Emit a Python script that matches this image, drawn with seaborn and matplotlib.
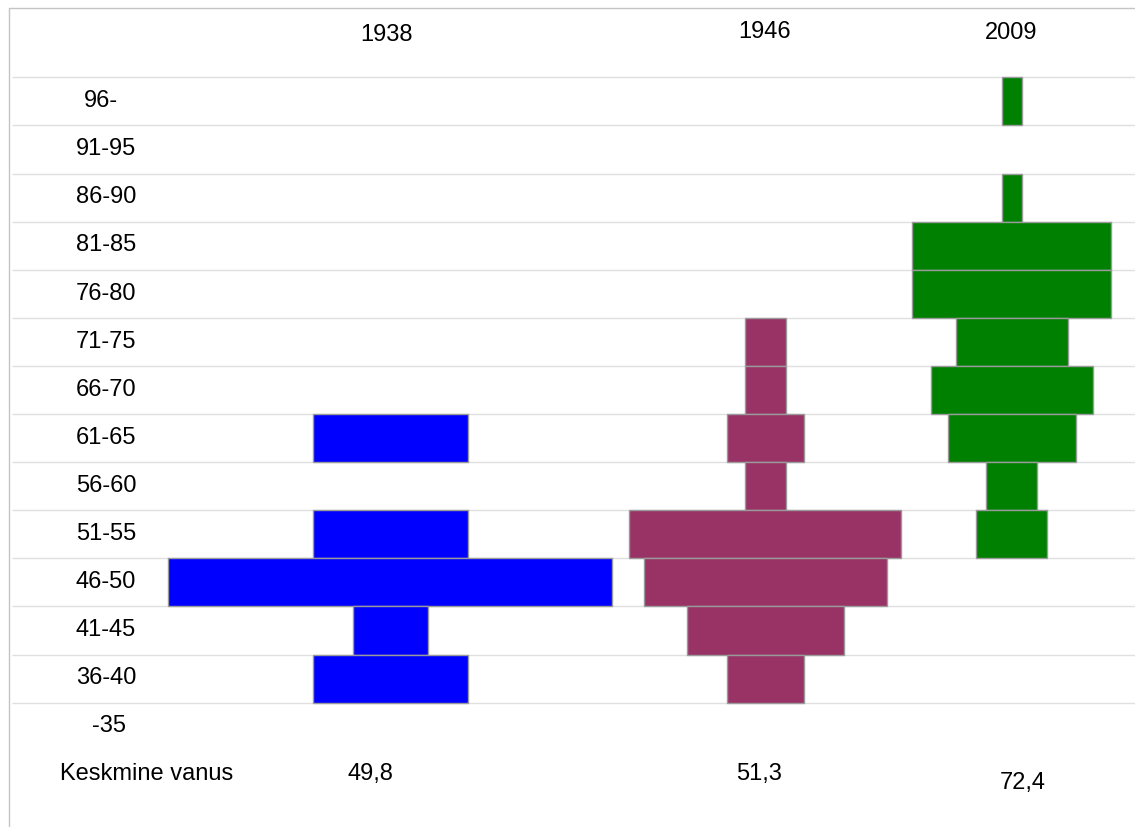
import numpy as np
import pandas as pd
import matplotlib
matplotlib.use("Agg")
import matplotlib.pyplot as plt
from matplotlib.lines import Line2D
import seaborn as sns

# ---------------- data ----------------
age_groups = ["96-", "91-95", "86-90", "81-85", "76-80", "71-75", "66-70",
              "61-65", "56-60", "51-55", "46-50", "41-45", "36-40", "-35"]
years = ["1938", "1946", "2009"]
share_1938 = [None, None, None, None, None, None, None,
              15.5, None, 15.5, 44.4, 7.5, 15.5, None]
share_1946 = [None, None, None, None, None, 4.1, 4.1,
              7.7, 4.1, 27.2, 24.3, 15.7, 7.7, None]
share_2009 = [2.0, None, 2.0, 19.9, 19.9, 11.2, 16.2,
              12.8, 5.1, 7.1, None, None, None, None]
mean_label = "Keskmine vanus"
mean_age = ["49,8", "51,3", "72,4"]

# ---------------- style / layout ----------------
colors = ["#0000FF", "#993366", "#008000"]
W, H = 1135, 827
col_centers = [39.0, 76.5, 101.15]            # x data units (1 unit = 10 px)
header_pos = [(387, 41.0), (765, 37.5), (1011, 39.3)]   # (x px, baseline px)
mean_pos = [(370, 780), (759, 780), (1022.5, 789.3)]
mean_label_pos = (60, 780)
label_x_default = 106
label_x = {"96-": 101, "-35": 109}
grid_top, row_h = 77.3, 48.1

sns.set_theme(style="white")
plt.rcParams["font.family"] = ["Liberation Sans", "DejaVu Sans"]
FS = 17

fig = plt.figure(figsize=(W / 100, H / 100), dpi=100)
ax = fig.add_axes([0, 0, 1, 1])

for vals, color, cx in zip([share_1938, share_1946, share_2009], colors, col_centers):
    df = pd.DataFrame({"age": age_groups, "share": vals}).dropna()
    n0 = len(ax.patches)
    sns.barplot(data=df, y="age", x="share", order=age_groups, orient="h",
                color=color, saturation=1, width=1.0, errorbar=None,
                edgecolor="#9a9a9a", linewidth=1.0, ax=ax, zorder=3)
    for p in ax.patches[n0:]:
        p.set_x(cx - p.get_width() / 2)

# map pixel rows to data rows
r_top = (0 - grid_top) / row_h - 0.5
r_bot = (H - grid_top) / row_h - 0.5
ax.set_xlim(0, W / 10)
ax.set_ylim(r_bot, r_top)
ax.set_axis_off()

# horizontal grid lines between rows
ax.hlines(np.arange(len(age_groups)) - 0.5, 12.3 / 10, W / 10,
          color="#e0e0e0", lw=1.0, zorder=1)

# row labels
for i, lab in enumerate(age_groups):
    ax.text(label_x.get(lab, label_x_default) / 10, i + 0.12, lab,
            ha="center", va="baseline", fontsize=FS, color="black")

# headers
for yr, (px, py) in zip(years, header_pos):
    fig.text(px / W, 1 - py / H, yr, ha="center", va="baseline",
             fontsize=FS, color="black")

# mean ages
fig.text(mean_label_pos[0] / W, 1 - mean_label_pos[1] / H, mean_label,
         ha="left", va="baseline", fontsize=FS, color="black")
for m, (px, py) in zip(mean_age, mean_pos):
    fig.text(px / W, 1 - py / H, m, ha="center", va="baseline",
             fontsize=FS, color="black")

# frame lines (left and top)
fig.add_artist(Line2D([9 / W, 9 / W], [0, 1 - 8.3 / H], transform=fig.transFigure,
                      color="#c4c4c4", lw=1.0))
fig.add_artist(Line2D([9 / W, 1], [1 - 8.3 / H, 1 - 8.3 / H], transform=fig.transFigure,
                      color="#c4c4c4", lw=1.0))

fig.savefig("out.png", dpi=100, facecolor="white")
